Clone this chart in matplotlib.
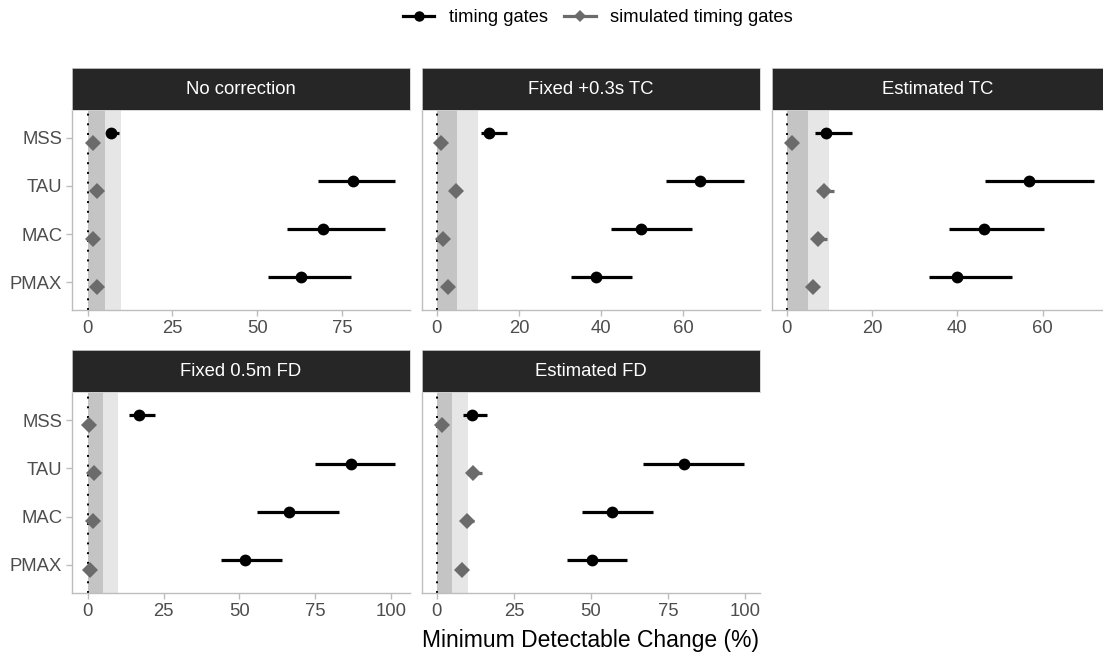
import numpy as np
import matplotlib
matplotlib.use("Agg")
import matplotlib.pyplot as plt
from matplotlib.lines import Line2D

plt.rcParams['font.family'] = ['Liberation Sans', 'DejaVu Sans']

# ================================
# Data
# ================================
panels = ["No correction", "Fixed +0.3s TC", "Estimated TC", "Fixed 0.5m FD", "Estimated FD"]
params = ["MSS", "TAU", "MAC", "PMAX"]

# timing gates: estimate, lower, upper (per panel, per param)
tg_est = [[6.9, 78.4, 69.5, 62.9],
          [12.8, 64.1, 49.8, 38.8],
          [9.2, 56.7, 46.3, 40.0],
          [16.8, 86.9, 66.3, 51.7],
          [11.3, 80.0, 56.8, 50.3]]
tg_lo = [[5.5, 68.0, 58.9, 53.3],
         [10.7, 55.8, 42.3, 32.8],
         [6.7, 46.4, 38.0, 33.4],
         [13.6, 74.9, 55.9, 43.8],
         [8.4, 66.7, 47.0, 42.2]]
tg_hi = [[9.3, 90.6, 87.7, 77.6],
         [17.0, 74.9, 62.2, 47.6],
         [15.4, 72.0, 60.3, 52.8],
         [22.3, 101.2, 82.9, 63.9],
         [16.4, 99.7, 70.2, 61.6]]

# simulated timing gates
sim_est = [[1.7, 2.8, 1.7, 2.8],
           [1.0, 4.7, 1.5, 2.8],
           [1.3, 8.7, 7.4, 6.1],
           [0.5, 2.2, 1.7, 0.8],
           [1.7, 11.6, 9.9, 8.1]]
sim_lo = [[1.4, 2.4, 1.4, 2.4],
          [0.8, 4.2, 1.2, 2.4],
          [1.0, 7.2, 6.2, 5.2],
          [0.4, 1.8, 1.4, 0.6],
          [1.4, 9.8, 8.4, 6.8]]
sim_hi = [[2.0, 3.3, 2.0, 3.3],
          [1.2, 5.3, 1.8, 3.3],
          [1.6, 11.1, 9.4, 7.2],
          [0.6, 2.7, 2.0, 1.0],
          [2.0, 14.6, 12.1, 9.6]]

xticks = [[0, 25, 50, 75], [0, 20, 40, 60], [0, 20, 40, 60],
          [0, 25, 50, 75, 100], [0, 25, 50, 75, 100]]
xlims = [(-4.6, 95.1), (-3.6, 78.7), (-3.4, 74.1), (-5.2, 106.2), (-4.8, 104.8)]

# ================================
# Layout (pixels of a 1103x659 figure)
# ================================
W, H = 1103, 659
cols = [(72, 410), (422, 760), (772, 1103)]
rows = [(68, 110, 310), (350, 392, 593)]  # strip top, plot top, plot bottom
slots = [(0, 0), (0, 1), (0, 2), (1, 0), (1, 1)]

BLACK = "#000000"
GREY = "#6b6b6b"
STRIP = "#262626"
AXCOL = "#bdbdbd"
TXT = "#4d4d4d"

fig = plt.figure(figsize=(W / 100, H / 100), dpi=100)

ypos = np.arange(len(params))[::-1] + 1.0
dodge = 0.1

for p, name in enumerate(panels):
    r, c = slots[p]
    x0, x1 = cols[c]
    st, pt, pb = rows[r]
    ax = fig.add_axes([x0 / W, 1 - pb / H, (x1 - x0) / W, (pb - pt) / H])
    sax = fig.add_axes([x0 / W, 1 - pt / H, (x1 - x0) / W, (pt - st) / H])

    # strip
    sax.set_facecolor(STRIP)
    sax.set_xticks([]); sax.set_yticks([])
    for s in sax.spines.values():
        s.set_color("#d0d0d0")
        s.set_linewidth(0.6)
    sax.text(0.5, 0.5, name, color="white", fontsize=13.3, ha="center", va="center",
             transform=sax.transAxes)

    # reference bands and zero line
    ax.axvspan(0, 5, color="#c4c4c4", lw=0, zorder=0)
    ax.axvspan(5, 10, color="#e6e6e6", lw=0, zorder=0)
    ax.axvline(0, color="black", ls=(0, (1, 4)), lw=1.4, zorder=1)

    # simulated
    ax.hlines(ypos - dodge, sim_lo[p], sim_hi[p], color=GREY, lw=2.3, zorder=2)
    ax.plot(sim_est[p], ypos - dodge, "D", color=GREY, ms=8, mew=0, zorder=3)
    # timing gates
    ax.hlines(ypos + dodge, tg_lo[p], tg_hi[p], color=BLACK, lw=2.3, zorder=4)
    ax.plot(tg_est[p], ypos + dodge, "o", color=BLACK, ms=8.5, mew=0, zorder=5)

    ax.set_xlim(*xlims[p])
    ax.set_ylim(0.42, 4.58)
    ax.set_xticks(xticks[p])
    ax.set_yticks(ypos)
    if c == 0:
        ax.set_yticklabels(params)
    else:
        ax.set_yticklabels([])
    for side in ["top", "right"]:
        ax.spines[side].set_visible(False)
    for side in ["left", "bottom"]:
        ax.spines[side].set_color(AXCOL)
        ax.spines[side].set_linewidth(1.0)
    ax.tick_params(axis="both", colors=AXCOL, labelcolor=TXT, labelsize=13.3,
                   length=4, width=1.0, pad=3)
    if c != 0:
        ax.tick_params(axis="y", length=0)

fig.text(0.5 * (422 + 760) / W, 1 - 641 / H, "Minimum Detectable Change (%)",
         fontsize=16.5, ha="center", va="center", color="black")

handles = [
    Line2D([], [], color=BLACK, lw=2.3, marker="o", ms=7.5, mew=0),
    Line2D([], [], color=GREY, lw=2.3, marker="D", ms=6.5, mew=0),
]
fig.legend(handles, ["timing gates", "simulated timing gates"], loc="center",
           bbox_to_anchor=(598 / W, 1 - 18 / H), ncol=2, frameon=False,
           fontsize=13.2, handlelength=1.7, handletextpad=0.8, columnspacing=0.9)

fig.savefig("out.png", dpi=100)
